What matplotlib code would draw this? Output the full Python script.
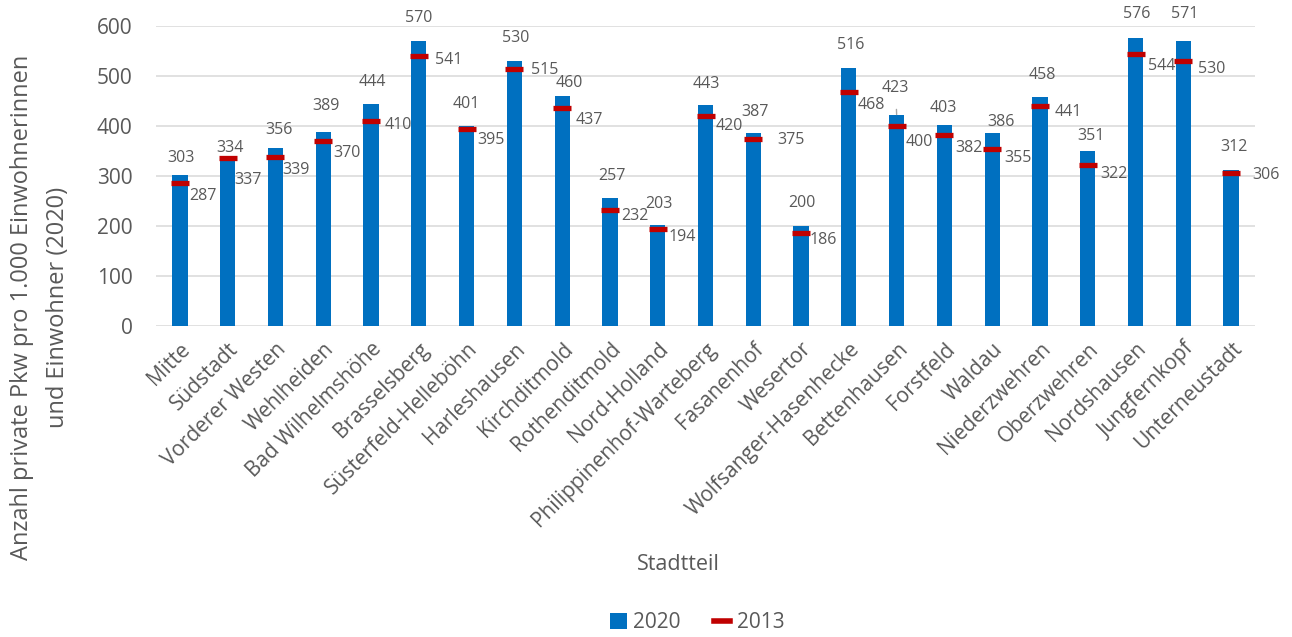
import matplotlib
matplotlib.use('Agg')
import matplotlib.pyplot as plt
from matplotlib.patches import Patch
from matplotlib.lines import Line2D
import numpy as np

plt.rcParams['font.family'] = ['Open Sans', 'DejaVu Sans']

stadtteile = ['Mitte', 'Südstadt', 'Vorderer Westen', 'Wehlheiden', 'Bad Wilhelmshöhe',
              'Brasselsberg', 'Süsterfeld-Helleböhn', 'Harleshausen', 'Kirchditmold',
              'Rothenditmold', 'Nord-Holland', 'Philippinenhof-Warteberg', 'Fasanenhof',
              'Wesertor', 'Wolfsanger-Hasenhecke', 'Bettenhausen', 'Forstfeld', 'Waldau',
              'Niederzwehren', 'Oberzwehren', 'Nordshausen', 'Jungfernkopf', 'Unterneustadt']
pkw_2020 = [303, 334, 356, 389, 444, 570, 401, 530, 460, 257, 203, 443, 387,
            200, 516, 423, 403, 386, 458, 351, 576, 571, 312]
pkw_2013 = [287, 337, 339, 370, 410, 541, 395, 515, 437, 232, 194, 420, 375,
            186, 468, 400, 382, 355, 441, 322, 544, 530, 306]

# label placement (pixels), tuned by hand like the original sheet
off_2020 = [(1, 16), (2, 11), (4, 18), (3, 25), (1, 22), (0, 23), (0, 22), (1, 23),
            (7, 13), (2, 22), (1, 21), (1, 21), (2, 21), (1, 23), (2, 23), (-1, 27),
            (-1, 16), (9, 11), (2, 22), (3, 15), (1, 24), (1, 26), (3, 23)]
off_2013 = [(23, -14), (20, -23), (21, -13), (24, -12), (27, -4), (30, -4), (24, -11),
            (30, -1), (27, -12), (25, -6), (25, -8), (24, -10), (38, -2), (22, -7),
            (22, -13), (23, -16), (25, -13), (26, -9), (28, -6), (26, -9), (26, -12),
            (28, -8), (35, -2)]

grey = '#595959'
blue = '#0070C0'
red = '#C00000'

fig = plt.figure(figsize=(12.92, 6.37), dpi=100)
ax = fig.add_axes([156 / 1292, 1 - 326 / 637, 1099 / 1292, 300 / 637])

x = np.arange(len(stadtteile))
ax.bar(x, pkw_2020, width=0.32, color=blue, zorder=2)
ax.plot(x, pkw_2013, linestyle='none', marker='_', markersize=12.5, markeredgewidth=3.8,
        color=red, zorder=3)

for i in range(len(x)):
    if i == 15:
        # Bettenhausen label has a small leader line in the original
        ax.annotate(str(pkw_2020[i]), xy=(x[i], pkw_2020[i]), xytext=off_2020[i],
                    textcoords='offset pixels', ha='center', va='center', fontsize=11.5,
                    color=grey, arrowprops=dict(arrowstyle='-', color='#A6A6A6', lw=1,
                                                shrinkA=8, shrinkB=0))
    else:
        ax.annotate(str(pkw_2020[i]), xy=(x[i], pkw_2020[i]), xytext=off_2020[i],
                    textcoords='offset pixels', ha='center', va='center', fontsize=11.5,
                    color=grey)
    ax.annotate(str(pkw_2013[i]), xy=(x[i], pkw_2013[i]), xytext=off_2013[i],
                textcoords='offset pixels', ha='center', va='center', fontsize=11.5,
                color=grey)

ax.set_xlim(-0.5, len(x) - 0.5)
ax.set_ylim(0, 600)
ax.set_yticks(range(0, 601, 100))
ax.yaxis.grid(True, color='#D9D9D9', linewidth=1.1, zorder=0)
ax.set_axisbelow(True)
for s in ax.spines.values():
    s.set_visible(False)
ax.tick_params(axis='both', length=0, labelsize=15, colors=grey)
ax.tick_params(axis='y', pad=17)
ax.set_xticks(x)
ax.set_xticklabels(stadtteile, rotation=45, ha='right', rotation_mode='anchor')
ax.tick_params(axis='x', pad=9)

fig.text(40 / 1292, 1 - 307 / 637,
         'Anzahl private Pkw pro 1.000 Einwohnerinnen\nund Einwohner (2020)',
         rotation=90, ha='center', va='center', multialignment='center',
         fontsize=17, color=grey, linespacing=1.7)
fig.text(678 / 1292, 1 - 565 / 637, 'Stadtteil', ha='center', va='center',
         fontsize=15.5, color=grey)

handles = [Patch(facecolor=blue, edgecolor='none'),
           Line2D([0], [0], color=red, linewidth=4)]
fig.legend(handles, ['2020', '2013'], loc='center', ncol=2, frameon=False,
           bbox_to_anchor=(697 / 1292, 1 - 623 / 637), fontsize=15, labelcolor=grey,
           handlelength=0.8, handleheight=0.8, handletextpad=0.3, columnspacing=1.6)

fig.savefig('out.png', dpi=100)
